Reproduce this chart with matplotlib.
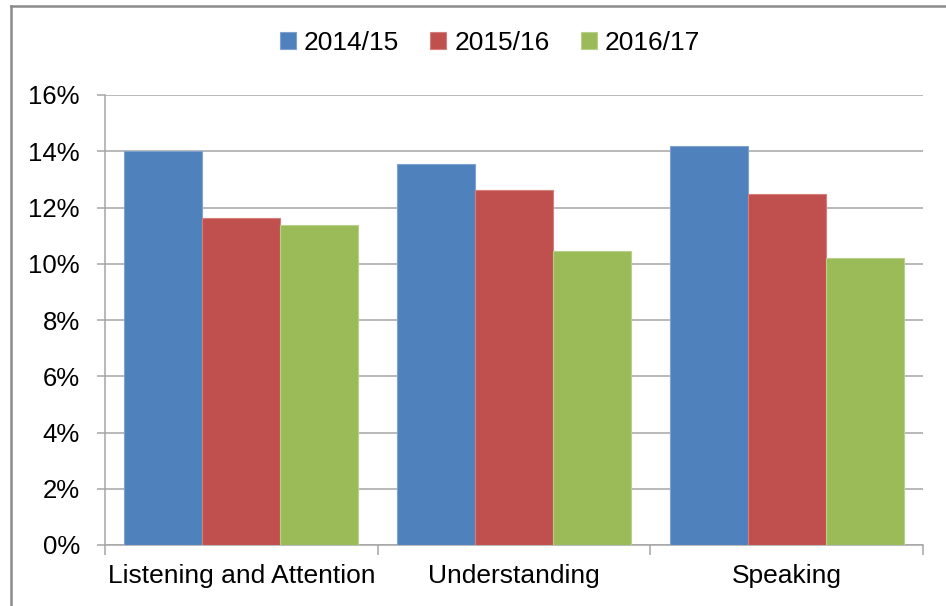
import numpy as np
import matplotlib.pyplot as plt
from matplotlib.lines import Line2D

categories = ["Listening and Attention", "Understanding", "Speaking"]
series = ["2014/15", "2015/16", "2016/17"]
values_1415 = [14.0, 13.56, 14.2]
values_1516 = [11.62, 12.62, 12.48]
values_1617 = [11.38, 10.46, 10.22]
colors = ["#4F81BD", "#C0504D", "#9BBB59"]
edge_colors = ["#7fa3d0", "#d57f7c", "#b7d08a"]

plt.rcParams['font.family'] = ['Liberation Sans', 'DejaVu Sans']

W, H = 946, 606
fig = plt.figure(figsize=(W / 100, H / 100), dpi=100)
ax = fig.add_axes([105 / W, 1 - 545 / H, (923 - 105) / W, (545 - 95) / H])

x = np.arange(len(categories))
width = 1 / 3.5
all_vals = [values_1415, values_1516, values_1617]
for i, (name, vals) in enumerate(zip(series, all_vals)):
    ax.bar(x + (i - 1) * width, np.array(vals) / 100, width, color=colors[i],
           edgecolor=edge_colors[i], linewidth=0.8, label=name, zorder=3)

ax.set_xlim(-0.5, len(categories) - 0.5)
ax.set_ylim(0, 0.16)
ax.set_yticks(np.arange(0, 0.161, 0.02))
ax.set_yticklabels([f"{int(round(v * 100))}%" for v in np.arange(0, 0.161, 0.02)])
ax.yaxis.grid(True, color="#a6a6a6", linewidth=1.1, zorder=0)

# category boundaries as major ticks, names on minor ticks
ax.set_xticks(np.arange(-0.5, len(categories), 1.0))
ax.set_xticklabels([])
ax.set_xticks(x, minor=True)
ax.set_xticklabels(categories, minor=True)
ax.tick_params(axis="x", which="major", length=7, width=1.1, color="#a6a6a6", direction="out")
ax.tick_params(axis="x", which="minor", length=0, pad=14, labelsize=19)
ax.tick_params(axis="y", length=6, width=1.1, color="#a6a6a6", direction="out", pad=12, labelsize=18.5)

for side in ["top", "right"]:
    ax.spines[side].set_visible(False)
for side in ["left", "bottom"]:
    ax.spines[side].set_color("#a6a6a6")
    ax.spines[side].set_linewidth(1.1)

ax.legend(loc="center", bbox_to_anchor=(490 / W, 1 - 43 / H), bbox_transform=fig.transFigure,
          ncol=3, frameon=False, fontsize=19, handlelength=0.6, handleheight=0.6,
          handletextpad=0.3, columnspacing=1.2)

# outer chart frame (partly cropped in the original)
fy = 1 - 6 / H
fx = 11 / W
fig.add_artist(Line2D([fx, fx], [0, fy], transform=fig.transFigure, color="#8c8c8c", linewidth=1.8))
fig.add_artist(Line2D([fx, 1], [fy, fy], transform=fig.transFigure, color="#8c8c8c", linewidth=1.8))

fig.savefig("out.png", dpi=100)
